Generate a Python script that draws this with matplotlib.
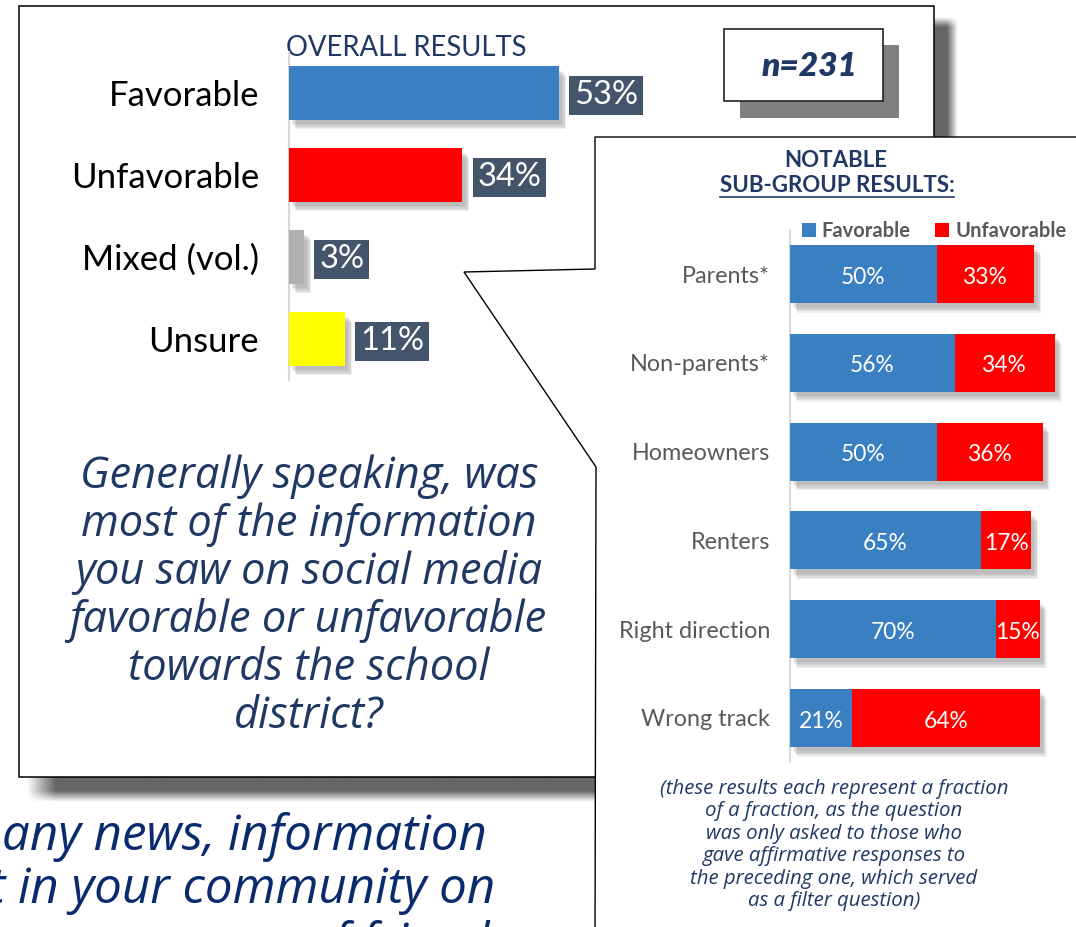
import matplotlib
matplotlib.use("Agg")
import matplotlib.pyplot as plt
import matplotlib.patches as mpatches
import matplotlib.patheffects as pe
import numpy as np

plt.rcParams['font.family'] = ['Lato', 'DejaVu Sans']

W, H = 1076, 927
DPI = 100

# overall results
overall_cats = ["Favorable", "Unfavorable", "Mixed (vol.)", "Unsure"]
overall_vals = [53, 34, 3, 11]
overall_cols = ["#3a7fc2", "#ff0000", "#b0b0b0", "#ffff00"]

# notable sub-groups
groups = ["Parents*", "Non-parents*", "Homeowners", "Renters",
          "Right direction", "Wrong track"]
fav = [50, 56, 50, 65, 70, 21]
unfav = [33, 34, 36, 17, 15, 64]

question = ["Generally speaking, was", "most of the information",
            "you saw on social media", "favorable or unfavorable",
            "towards the school", "district?"]
footnote = ["(these results each represent a fraction",
            "of a fraction, as the question",
            "was only asked to those who",
            "gave affirmative responses to",
            "the preceding one, which served",
            "as a filter question)"]

NAVY = "#1f3864"
DARKBLUE = "#0a2a6e"
BLUE = "#3a7fc2"
RED = "#ff0000"
SLATE = "#44546a"
GRAY_TXT = "#595959"
ITAL = ["Open Sans", "DejaVu Sans"]

fig = plt.figure(figsize=(W / DPI, H / DPI), dpi=DPI)
bg = fig.add_axes([0, 0, 1, 1])
bg.set_xlim(0, W)
bg.set_ylim(H, 0)
bg.axis("off")


def px_axes(x0, y0, x1, y1):
    return fig.add_axes([x0 / W, 1 - y1 / H, (x1 - x0) / W, (y1 - y0) / H])


def shadow_fx(normal=True):
    # a few faint offset copies to fake a blurred drop shadow
    effs = []
    for dx, dy in [(2, -3), (3, -4), (4, -5), (4, -6), (5, -7)]:
        effs.append(pe.SimplePatchShadow(offset=(dx, dy), shadow_rgbFace="#7f7f7f", alpha=0.13))
    if normal:
        effs.append(pe.Normal())
    return effs


# slide text peeking out behind the panels
bg_font = dict(fontsize=35.5, style="italic", family=ITAL, color=DARKBLUE, va="baseline", zorder=1)
bg.text(2, 850, "any news, information", **bg_font)
bg.text(-11, 903, "t in your community on", **bg_font)
bg.text(305, 958, "of friends", **bg_font)


# shadow of the left panel
def gradient_shadow(x0, x1, y0, y1, vertical):
    n = 60
    a = np.ones((n, n)) * 0.75
    t = np.linspace(0, 1, n)
    fade = np.clip((1 - t) / 0.45, 0, 1)
    if vertical:
        a *= fade[:, None]
        a *= np.clip(t / 0.05, 0, 1)[None, :]
    else:
        a *= fade[None, :]
        a *= np.clip(t / 0.08, 0, 1)[:, None]
    img = np.zeros((n, n, 4))
    img[..., :3] = 0.2
    img[..., 3] = a
    bg.imshow(img, extent=(x0, x1, y1, y0), origin="upper", aspect="auto",
              interpolation="bilinear", zorder=2)


gradient_shadow(22, 600, 777, 802, vertical=True)
gradient_shadow(934, 958, 16, 140, vertical=False)
bg.set_xlim(0, W)
bg.set_ylim(H, 0)

bg.add_patch(mpatches.Rectangle((19, 6), 915, 771, fc="white", ec="black", lw=1.1, zorder=3))

# n=231 box
bg.add_patch(mpatches.Rectangle((740, 45), 159, 73, fc="#808080", ec="none", zorder=4))
bg.add_patch(mpatches.Rectangle((724, 29), 159, 72, fc="white", ec="#222222", lw=1.2, zorder=5))
bg.text(810, 66, "n=231", fontsize=24, fontweight="heavy", style="italic", color=NAVY,
        ha="center", va="center", zorder=6)

bg.text(286, 48, "OVERALL RESULTS", fontsize=19.8, color=NAVY, ha="left", va="center", zorder=6)

# question text
for i, line in enumerate(question):
    bg.text(309, 488 + 48 * i, line, fontsize=31.2, style="italic", family=ITAL, color=NAVY,
            ha="center", va="baseline", zorder=6)

# callout panel
callout = [(1100, 137), (595, 137), (595, 269), (464, 272), (596, 467), (595, 950), (1100, 950)]
bg.add_patch(mpatches.Polygon(callout, closed=True, fc="white", ec="black", lw=1.0, zorder=7))

bg.text(836, 160, "NOTABLE", fontsize=16, fontweight="bold", color=NAVY,
        ha="center", va="center", zorder=8)
sub = bg.text(837, 185, "SUB-GROUP RESULTS:", fontsize=16, fontweight="bold", color=NAVY,
              ha="center", va="center", zorder=8)
fig.canvas.draw()
bb = sub.get_window_extent().transformed(bg.transData.inverted())
bg.plot([bb.x0, bb.x1], [197, 197], color=NAVY, lw=1.2, zorder=8)

for i, line in enumerate(footnote):
    bg.text(834, 794 + 22.4 * i, line, fontsize=14.7, style="italic", family=ITAL, color=NAVY,
            ha="center", va="baseline", zorder=8)

# overall results bars
ax1 = px_axes(289, 52, 799, 380)
ax1.set_facecolor("none")
ax1.set_xlim(0, 100)
ax1.set_ylim(3.5, -0.5)
ax1.barh(range(len(overall_vals)), overall_vals, height=0.65, color=overall_cols,
         path_effects=shadow_fx(), zorder=3)
px1 = 510 / 100
for i, v in enumerate(overall_vals):
    ax1.text(v + (10 + 5) / px1, i + 0.03, f"{v}%", fontsize=23.5, color="white",
             ha="left", va="center", zorder=4,
             bbox=dict(boxstyle="square,pad=0.15", fc=SLATE, ec="none"))
ax1.set_yticks(range(len(overall_cats)))
ax1.set_yticklabels(overall_cats, fontsize=25, color="black")
ax1.tick_params(axis="y", length=0, pad=21.5)
ax1.set_xticks([])
for s in ["top", "right", "bottom"]:
    ax1.spines[s].set_visible(False)
ax1.spines["left"].set_color("#d9d9d9")
ax1.spines["left"].set_linewidth(1.5)

# sub-group bars
ax2 = px_axes(790, 229.65, 1084, 762.35)
ax2.set_facecolor("none")
ax2.set_xlim(0, 100)
ax2.set_ylim(5.5, -0.5)
y = np.arange(len(groups))
totals = [f + u for f, u in zip(fav, unfav)]
ax2.barh(y, totals, height=0.654, color="none", path_effects=shadow_fx(normal=False), zorder=1)
ax2.barh(y, fav, height=0.654, color=BLUE, zorder=3)
ax2.barh(y, unfav, left=fav, height=0.654, color=RED, zorder=3)
for i in range(len(groups)):
    ax2.text(fav[i] / 2, i + 0.035, f"{fav[i]}%", fontsize=16.4, color="white",
             ha="center", va="center", zorder=4)
    ax2.text(fav[i] + unfav[i] / 2, i + 0.035, f"{unfav[i]}%", fontsize=16.4, color="white",
             ha="center", va="center", zorder=4)
ax2.set_yticks(y)
ax2.set_yticklabels(groups, fontsize=16.8, color=GRAY_TXT)
ax2.tick_params(axis="y", length=0, pad=14.4)
ax2.set_xticks([])
for s in ["top", "right", "bottom"]:
    ax2.spines[s].set_visible(False)
ax2.spines["left"].set_color("#d9d9d9")
ax2.spines["left"].set_linewidth(1.5)

handles = [mpatches.Patch(facecolor=BLUE), mpatches.Patch(facecolor=RED)]
ax2.legend(handles, ["Favorable", "Unfavorable"], loc="center", bbox_to_anchor=(0.49, 0.9975),
           ncol=2, frameon=False, handlelength=0.7, handleheight=0.7, handletextpad=0.3,
           columnspacing=1.2, borderpad=0, borderaxespad=0,
           prop=dict(family=["Lato", "DejaVu Sans"], weight="bold", size=14.5), labelcolor=GRAY_TXT)

fig.savefig("out.png", dpi=DPI)
